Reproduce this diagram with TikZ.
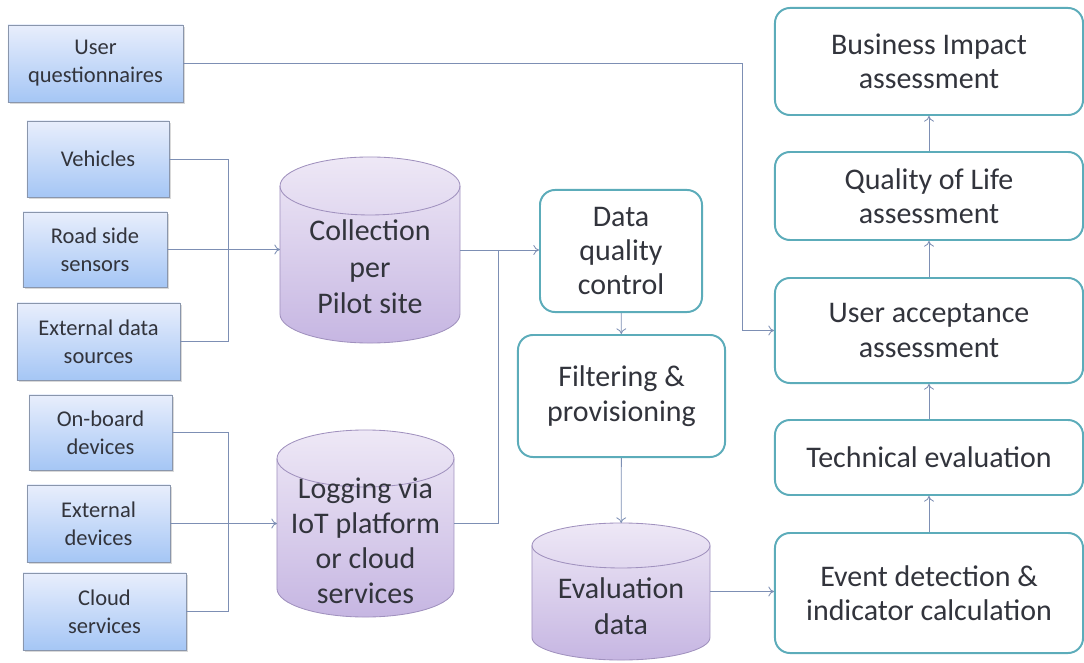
\documentclass[tikz,border=0pt]{standalone}
\usepackage{fontspec}
\setmainfont{Carlito}
\usetikzlibrary{arrows.meta,shadows,calc}
\definecolor{txt}{RGB}{50,52,60}
\definecolor{srctop}{RGB}{232,238,252}
\definecolor{srcbot}{RGB}{165,198,245}
\definecolor{srcedge}{RGB}{138,150,172}
\definecolor{cyltop}{RGB}{238,232,246}
\definecolor{cylbot}{RGB}{198,182,226}
\definecolor{cyledge}{RGB}{160,145,190}
\definecolor{tealline}{RGB}{92,172,186}
\definecolor{lineclr}{RGB}{125,143,180}
\tikzset{
  srcbox/.style={draw=srcedge, line width=0.6pt, top color=srctop, bottom color=srcbot,
    drop shadow={shadow xshift=0.4mm, shadow yshift=-0.6mm, opacity=0.3},
    align=center, text=txt, inner sep=0pt, font=\fontsize{16}{20}\selectfont},
  store/.style={inner sep=0pt, outer sep=0pt},
  storetext/.style={align=center, text=txt, inner sep=0pt, font=\fontsize{21.3}{25.5}\selectfont},
  cylshade/.style={top color=cyltop, bottom color=cylbot, draw=cyledge, line width=0.6pt},
  stage/.style={draw=tealline, line width=1.4pt, rounded corners=0.375cm, fill=white,
    inner sep=0pt, align=center, text=txt, font=\fontsize{21.3}{24.5}\selectfont},
  conn/.style={draw=lineclr, line width=0.6pt},
  arr/.style={conn, -{To[length=4pt,width=7pt]}}
}
% cylinder drawn round an empty node: node, half width, end radius
\newcommand{\drum}[3]{%
  \shade[cylshade] ($(#1.north west)+(0,#3)$) -- ($(#1.south west)+(0,-#3)$)
    arc[start angle=180, end angle=0, x radius=#2, y radius=#3]
    -- ($(#1.north east)+(0,#3)$)
    arc[start angle=0, end angle=-180, x radius=#2, y radius=#3] -- cycle;
  \draw[cyledge, line width=0.6pt] ($(#1.north west)+(0,#3)$)
    arc[start angle=180, end angle=0, x radius=#2, y radius=#3];
}
\begin{document}
\begin{tikzpicture}[x=0.025cm, y=-0.025cm]
\useasboundingbox (0,0) rectangle (1084,663);
% sources
\node[srcbox, minimum width=4.375cm, minimum height=1.925cm] (uq) at (95.5,63.5) {User\\questionnaires};
\node[srcbox, minimum width=3.55cm, minimum height=1.9cm] (veh) at (98,159) {Vehicles};
\node[srcbox, minimum width=3.6cm, minimum height=1.875cm] (road) at (95,249.5) {Road side\\sensors};
\node[srcbox, minimum width=4.075cm, minimum height=1.925cm] (extds) at (98.5,341.5) {External data\\sources};
\node[srcbox, minimum width=3.575cm, minimum height=1.875cm] (onb) at (100.5,432.5) {On-board\\devices};
\node[srcbox, minimum width=3.575cm, minimum height=1.925cm] (extdev) at (98.5,523.5) {External\\devices};
\node[srcbox, minimum width=4.075cm, minimum height=1.925cm] (cloud) at (104.5,611.5) {Cloud\\services};
% stores
\node[store, minimum width=4.5cm, minimum height=4.65cm] (coll) at (370,250) {};
\drum{coll}{90}{29}
\node[storetext, font=\fontsize{21.3}{26}\selectfont] (coll-txt) at (370,267) {Collection\\per\\Pilot site};
\node[store, minimum width=4.425cm, minimum height=4.675cm] (log) at (365.5,523.5) {};
\drum{log}{88.5}{28.5}
\node[storetext, font=\fontsize{21.3}{25}\selectfont] (log-txt) at (365.5,541) {Logging via\\IoT platform\\or cloud\\services};
\node[store, minimum width=4.45cm, minimum height=3.425cm] (eval) at (621,591.5) {};
\drum{eval}{89}{22.5}
\node[storetext] (eval-txt) at (621,606) {Evaluation\\data};
% processing
\node[stage, minimum width=4.05cm, minimum height=3.05cm] (dqc) at (621,251) {Data\\quality\\control};
\node[stage, minimum width=5.175cm, minimum height=3.05cm] (filt) at (621.5,396) {Filtering \&\\provisioning};
% evaluation chain
\node[stage, minimum width=7.7cm, minimum height=2.675cm] (bi) at (929,61.5) {Business Impact\\assessment};
\node[stage, minimum width=7.7cm, minimum height=2.2cm] (qol) at (929,196) {Quality of Life\\assessment};
\node[stage, minimum width=7.7cm, minimum height=2.625cm] (ua) at (929,330.5) {User acceptance\\assessment};
\node[stage, minimum width=7.7cm, minimum height=1.875cm] (tech) at (929,457.5) {Technical evaluation};
\node[stage, minimum width=7.7cm, minimum height=3cm] (event) at (929,593) {Event detection \&\\indicator calculation};
% connectors
\coordinate (busA) at (228,249.5);
\coordinate (busB) at (228,523.5);
\coordinate (busC) at (498,251);
\draw[conn] (veh.east) -| (busA);
\draw[conn] (extds.east) -| (busA);
\draw[arr] (road.east) -- (road.east -| coll.west);
\draw[conn] (onb.east) -| (busB);
\draw[conn] (cloud.east) -| (busB);
\draw[arr] (extdev.east) -- (extdev.east -| log.west);
\draw[conn] (log.east) -| (busC);
\draw[arr] (coll.east) -- (coll.east -| dqc.west);
\draw[arr] (dqc) -- (filt);
\draw[arr] (filt) -- (eval);
\draw[arr] (eval.east) -- (eval.east -| event.west);
\draw[arr] (uq.east) -| ($(ua.west)+(-32,0)$) -- (ua.west);
\foreach \a/\b in {event/tech, tech/ua, ua/qol, qol/bi}
  \draw[arr] (\a) -- (\b);
\end{tikzpicture}
\end{document}
